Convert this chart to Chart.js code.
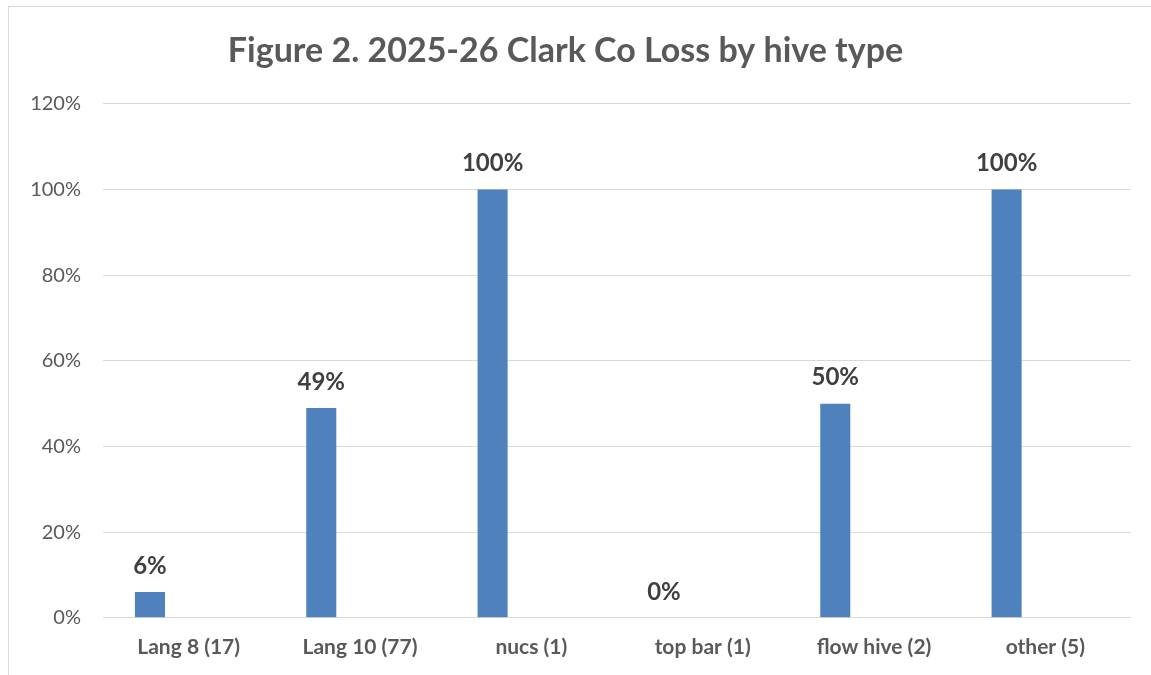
<!DOCTYPE html>
<html>
<head>
<meta charset="utf-8">
<script src="https://cdn.jsdelivr.net/npm/chart.js@4.4.1/dist/chart.umd.min.js"></script>
<style>
  html, body { margin: 0; padding: 0; background: #fff; overflow: hidden; }
  #wrap { position: relative; width: 1151px; height: 675px; }
  #frame { position: absolute; left: 8px; top: 6px; width: 1200px; height: 720px; border: 1px solid #d9d9d9; box-sizing: border-box; pointer-events: none; }
  canvas { position: absolute; left: 0; top: 0; }
</style>
</head>
<body>
<div id="wrap">
  <div id="frame"></div>
  <canvas id="c" width="1151" height="675"></canvas>
</div>
<script>
const chartTitle = "Figure 2. 2025-26 Clark Co Loss by hive type";
const categories = ["Lang 8 (17)", "Lang 10 (77)", "nucs (1)", "top bar (1)", "flow hive (2)", "other (5)"];
const lossValues = [0.06, 0.49, 1.00, 0.00, 0.50, 1.00];
const emptySeries = [null, null, null, null, null, null];
const yTicks = [0, 0.2, 0.4, 0.6, 0.8, 1.0, 1.2];

const FONT = "Lato, 'Open Sans', sans-serif";

const valueLabels = {
  id: 'valueLabels',
  afterDatasetsDraw(chart) {
    const ctx = chart.ctx;
    const meta = chart.getDatasetMeta(0);
    ctx.save();
    ctx.font = "bold 24px " + FONT;
    ctx.fillStyle = "#404040";
    ctx.textAlign = "center";
    ctx.textBaseline = "bottom";
    meta.data.forEach((bar, i) => {
      const v = lossValues[i];
      ctx.fillText(Math.round(v * 100) + "%", bar.x, bar.y - 14);
    });
    ctx.restore();
  }
};

new Chart(document.getElementById('c'), {
  type: 'bar',
  data: {
    labels: categories,
    datasets: [
      { data: lossValues, backgroundColor: '#4F81BD', borderWidth: 0, categoryPercentage: 0.904, barPercentage: 0.388 },
      { data: emptySeries, backgroundColor: '#C0504D', categoryPercentage: 0.904, barPercentage: 0.388 }
    ]
  },
  options: {
    responsive: false,
    animation: false,
    layout: { padding: { top: 20, right: 20, left: 0, bottom: -2 } },
    plugins: {
      legend: { display: false },
      tooltip: { enabled: false },
      title: {
        display: true,
        text: chartTitle,
        color: '#595959',
        font: { family: FONT, size: 34, weight: 'bold' },
        padding: { top: 11, bottom: 32 }
      }
    },
    scales: {
      x: {
        grid: { display: false, drawTicks: false },
        border: { display: false },
        ticks: { color: '#595959', font: { family: FONT, size: 21, weight: 'bold' }, padding: 17, maxRotation: 0 }
      },
      y: {
        min: 0, max: 1.2,
        afterBuildTicks(axis) { axis.ticks = yTicks.map(v => ({ value: v })); },
        afterFit(axis) { axis.width = 103; },
        grid: { color: '#d9d9d9', lineWidth: 1, drawTicks: false },
        border: { display: false },
        ticks: {
          color: '#595959',
          font: { family: FONT, size: 20 },
          padding: 22,
          callback: v => Math.round(v * 100) + '%'
        }
      }
    }
  },
  plugins: [valueLabels]
});
</script>
</body>
</html>
